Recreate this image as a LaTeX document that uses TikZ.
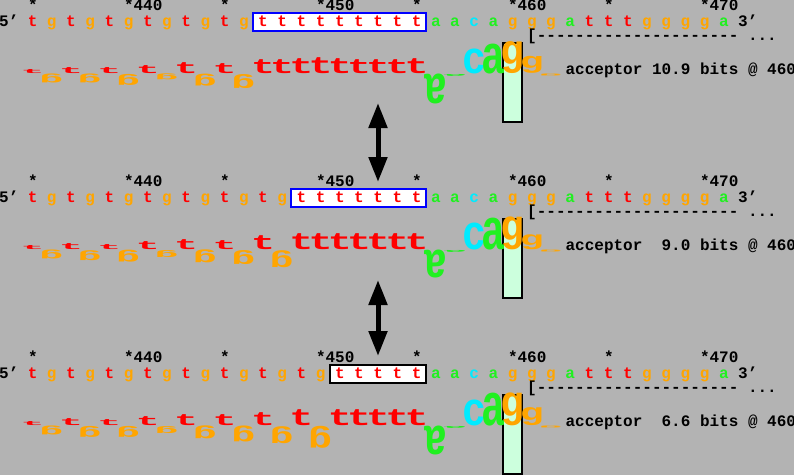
\documentclass[tikz,border=0pt]{standalone}
\usepackage{fontspec}
\setmonofont{Liberation Mono}
\usetikzlibrary{arrows.meta}
\definecolor{bg}{RGB}{179,179,179}
\definecolor{colt}{RGB}{255,0,0}
\definecolor{colg}{RGB}{255,165,0}
\definecolor{cola}{RGB}{32,240,32}
\definecolor{colc}{RGB}{0,235,255}
\definecolor{boxfill}{RGB}{204,255,221}
\tikzset{
 txt/.style={font=\ttfamily\bfseries\fontsize{16}{19}\selectfont, inner sep=0pt, text=black},
 seqch/.style={txt, anchor=base},
 lg/.style={inner sep=0pt, font=\ttfamily\bfseries\fontsize{16}{19}\selectfont},
 sitebox/.style={line width=2pt, fill=white},
 zonebox/.style={draw=black, line width=2pt, fill=boxfill},
 dbl/.style={line width=5pt, {Triangle[length=25pt,width=18pt]}-{Triangle[length=25pt,width=18pt]}},
}
\newcommand{\lgw}{24pt}
\newcommand{\walkrow}[7]{%
\begin{scope}[shift={(0,#2)}]
 \draw[zonebox] (503,43) rectangle (522,122);
 \foreach \kk/\st in {0/*,5/*440,10/*,15/*450,20/*,25/*460,30/*,35/*470}{%
   \node[txt, anchor=base west] (#1-st\kk) at ({27.8+19.2*\kk},10.5) {\st};}
 \draw[sitebox, draw=#5] ({32.6+19.2*#4-10},13.3) rectangle (426,30.7);
 \foreach \ch [count=\kk from 0] in {#3}{%
   \node[seqch, text=col\ch] (#1-s\kk) at ({32.6+19.2*\kk},26) {\ch};}
 \node[txt, anchor=base west] (#1-five) at (-1,26) {5’};
 \node[txt, anchor=base west] (#1-three) at (738,26) {3’};
 \node[txt, anchor=base west] (#1-br) at (527,40) {[---------------------~...};
 \foreach \ch/\hv [count=\kk from 0] in {#6}{%
   \pgfmathsetmacro\hh{abs(\hv)}%
   \ifdim \hv pt>0pt
     \node[lg, anchor=south, text=col\ch] (#1-l\kk) at ({32.6+19.2*\kk},74) {\resizebox*{\lgw}{\hh pt}{\ch}};
   \else
     \node[lg, anchor=north, text=col\ch] (#1-l\kk) at ({32.6+19.2*\kk},74) {\resizebox*{\lgw}{\hh pt}{\rotatebox{180}{\ch}}};
   \fi}
 \node[txt, anchor=base west] (#1-lab) at (565.4,74) {#7};
\end{scope}}

\begin{document}
\begin{tikzpicture}[x=1pt,y=-1pt]
\fill[bg] (0,0) rectangle (794,475);
\useasboundingbox (0,0) rectangle (794,475);

\walkrow{r1}{0}{t,g,t,g,t,g,t,g,t,g,t,g,t,t,t,t,t,t,t,t,t,a,a,c,a,g,g,g,a,t,t,t,g,g,g,g,a}{12}{blue}%
{t/4,g/-9,t/6,g/-9,t/6,g/-11,t/8,g/-6,t/11,g/-12,t/10,g/-14,t/14,t/14,t/15,t/16,t/15,t/14,t/14,t/14,t/15,a/-30,a/-2,c/25,a/30,g/32,g/17,g/-2}%
{acceptor 10.9 bits @ 460}

\walkrow{r2}{176}{t,g,t,g,t,g,t,g,t,g,t,g,t,g,t,t,t,t,t,t,t,a,a,c,a,g,g,g,a,t,t,t,g,g,g,g,a}{14}{blue}%
{t/4,g/-9,t/6,g/-10,t/5,g/-12,t/8,g/-7,t/10,g/-13,t/9,g/-14,t/14,g/-17,t/16,t/16,t/16,t/16,t/16,t/16,t/16,a/-28,a/-2,c/27,a/32,g/33,g/15,g/-2}%
{acceptor~~9.0 bits @ 460}

\walkrow{r3}{352}{t,g,t,g,t,g,t,g,t,g,t,g,t,g,t,g,t,t,t,t,t,a,a,c,a,g,g,g,a,t,t,t,g,g,g,g,a}{16}{black}%
{t/4,g/-9,t/7,g/-11,t/6,g/-11,t/9,g/-7,t/11,g/-13,t/11,g/-16,t/13,g/-17,t/16,g/-22,t/16,t/16,t/16,t/16,t/16,a/-29,a/-2,c/26,a/33,g/33,g/18,g/-2}%
{acceptor~~6.6 bits @ 460}

\coordinate (a1t) at (378,103);
\coordinate (a1b) at (378,182);
\coordinate (a2t) at (378,280);
\coordinate (a2b) at (378,356);
\draw[dbl] (a1t) -- (a1b);
\draw[dbl] (a2t) -- (a2b);
\end{tikzpicture}
\end{document}
